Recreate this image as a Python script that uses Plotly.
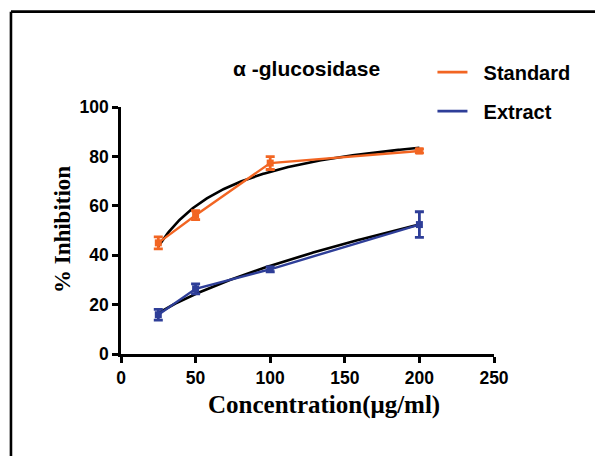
import numpy as np
import plotly.graph_objects as go

# Concentration (µg/ml)
conc = [25, 50, 100, 200]

# % inhibition, mean and error
standard_mean = [45.0, 56.2, 77.3, 82.2]
standard_err = [2.4, 1.8, 2.6, 0.8]
extract_mean = [15.9, 26.4, 34.3, 52.4]
extract_err = [2.2, 2.0, 1.0, 5.2]

x_ticks = [0, 50, 100, 150, 200, 250]
y_ticks = [0, 20, 40, 60, 80, 100]

ORANGE = "#F26522"
BLUE = "#2E3E98"

x = np.array(conc, dtype=float)
xs = np.linspace(x.min(), x.max(), 200)


def fit_hyperbola(xv, yv):
    """One-site saturation y = Bmax*x/(K+x), least squares over K."""
    best = None
    for k in np.linspace(1, 1000, 20000):
        f = xv / (k + xv)
        b = np.sum(yv * f) / np.sum(f * f)
        sse = np.sum((yv - b * f) ** 2)
        if best is None or sse < best[0]:
            best = (sse, b, k)
    _, b, k = best
    return lambda t: b * t / (k + t)


def fit_power(xv, yv):
    """Power law y = a*x^p, fitted on log scale."""
    p, ln_a = np.polyfit(np.log(xv), np.log(yv), 1)
    return lambda t: np.exp(ln_a) * t ** p


std_fit = fit_hyperbola(x, np.array(standard_mean))
ext_fit = fit_power(x, np.array(extract_mean))

fig = go.Figure()

# fitted curves
for fn in (std_fit, ext_fit):
    fig.add_trace(go.Scatter(
        x=xs, y=fn(xs), mode="lines",
        line=dict(color="black", width=2.6),
        showlegend=False, hoverinfo="skip",
    ))

# measured series with error bars
for name, ym, ye, col in (
    ("Standard", standard_mean, standard_err, ORANGE),
    ("Extract", extract_mean, extract_err, BLUE),
):
    fig.add_trace(go.Scatter(
        x=conc, y=ym, mode="lines+markers", name=name,
        line=dict(color=col, width=2.4),
        marker=dict(symbol="square", size=7, color=col),
        error_y=dict(type="data", array=ye, visible=True,
                     color=col, thickness=2.8, width=4.5),
        showlegend=False, cliponaxis=False,
    ))
    # legend swatch (line only)
    fig.add_trace(go.Scatter(
        x=[None], y=[None], mode="lines", name="\u00a0\u00a0" + name,
        line=dict(color=col, width=2.6), legendgroup=name,
    ))

axis_common = dict(
    showline=True, linecolor="black", linewidth=2.6,
    ticks="outside", ticklen=6, tickwidth=2.6, tickcolor="black",
    showgrid=False, zeroline=False,
    tickfont=dict(family="Liberation Sans, Arial", size=17.5, color="black",
                  weight="bold"),
)

fig.update_layout(
    width=595, height=456,
    margin=dict(l=121, r=101, t=107, b=102),
    paper_bgcolor="white", plot_bgcolor="white",
    xaxis=dict(range=[0, 250], tickvals=x_ticks, **axis_common),
    yaxis=dict(range=[0, 100], tickvals=y_ticks, **axis_common),
    legend=dict(
        x=0.835, y=1.22, xanchor="left", yanchor="top",
        font=dict(family="Liberation Sans, Arial", size=20, color="black",
                  weight="bold"),
        itemwidth=30, tracegroupgap=10, bgcolor="rgba(0,0,0,0)",
    ),
    annotations=[
        dict(text="α -glucosidase", xref="paper", yref="paper",
             x=0.497, y=1.156, xanchor="center", yanchor="middle",
             showarrow=False,
             font=dict(family="Liberation Sans, Arial", size=21,
                       color="black", weight="bold")),
        dict(text="Concentration(μg/ml)", xref="paper", yref="paper",
             x=0.543, y=-0.206, xanchor="center", yanchor="middle",
             showarrow=False,
             font=dict(family="Liberation Serif, Times New Roman", size=25,
                       color="black", weight="bold")),
        dict(text="% Inhibition", xref="paper", yref="paper",
             x=-0.158, y=0.502, xanchor="center", yanchor="middle",
             textangle=-90, showarrow=False,
             font=dict(family="Liberation Serif, Times New Roman", size=23,
                       color="black", weight="bold")),
    ],
    shapes=[
        # border along the top and left of the figure
        dict(type="line", xref="paper", yref="paper",
             x0=-0.295, x1=1.3, y0=1.386, y1=1.386,
             line=dict(color="black", width=2.6)),
        dict(type="line", xref="paper", yref="paper",
             x0=-0.295, x1=-0.295, y0=1.386, y1=-0.45,
             line=dict(color="black", width=2.6)),
    ],
)

fig.write_html("out.html")
